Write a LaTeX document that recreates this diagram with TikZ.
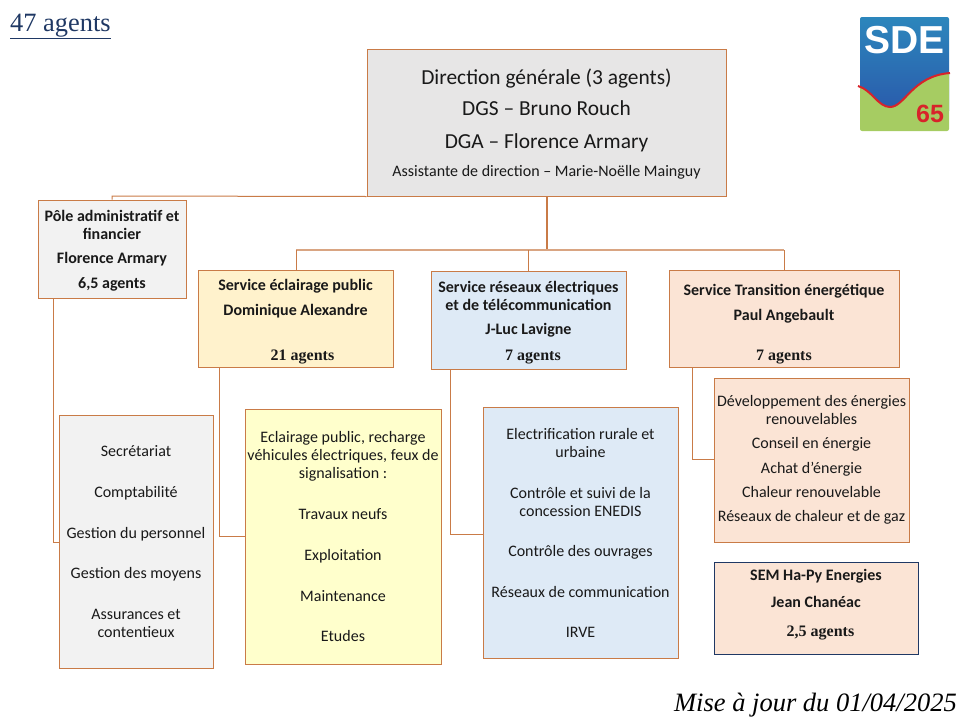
\documentclass[tikz,border=0pt]{standalone}
\usepackage{fontspec}
\setmainfont{Carlito}
\newfontfamily\serifont{Liberation Serif}
\newfontfamily\logofont{Liberation Sans}
\usepackage{xcolor}
\definecolor{liencol}{HTML}{C97B47}
\definecolor{liensoft}{HTML}{D9A582}
\definecolor{grisdg}{HTML}{E7E6E6}
\definecolor{grispole}{HTML}{F2F2F2}
\definecolor{orclair}{HTML}{FFF2CC}
\definecolor{bleuclair}{HTML}{DEEAF6}
\definecolor{saumon}{HTML}{FBE4D5}
\definecolor{jaune}{HTML}{FFFFCC}
\definecolor{marine}{HTML}{1F3864}
\definecolor{logohaut}{HTML}{2C86BC}
\definecolor{logomilieu}{HTML}{1E96D2}
\definecolor{logobas}{HTML}{2A5CAC}
\definecolor{logovert}{HTML}{A6CC62}
\definecolor{logorouge}{HTML}{D8232A}
\newcommand{\agt}[1]{{\serifont\bfseries\fontsize{16}{16}\selectfont #1}}
\newcommand{\cale}[1]{\rule{0pt}{#1}}
\tikzset{
    boite/.style={draw=liencol, line width=1pt, inner sep=0pt, align=center, text=black!90},
    lien/.style={draw=liencol, line width=1pt},
    liensoft/.style={draw=liensoft, line width=1.3pt},
    titre/.style={font=\bfseries\fontsize{16}{18}\selectfont},
    liste/.style={font=\fontsize{16}{18}\selectfont}
}
\begin{document}
\begin{tikzpicture}[x=1pt,y=-1pt]
        \useasboundingbox (0,0) rectangle (960,720);

        % Title and date
        \node[anchor=base west, inner sep=0pt, text=marine, font=\serifont\fontsize{26.4}{26}\selectfont] (effectif) at (10,31) {\underline{47 agents}};
        \node[anchor=base east, inner sep=0pt, font=\serifont\itshape\fontsize{26.5}{27}\selectfont] (maj) at (957,711) {Mise à jour du 01/04/2025};

        % Main boxes
        \node[boite, fill=grisdg, minimum width=359, minimum height=147, font=\fontsize{21.4}{24}\selectfont] (dg) at (546.5,122.5)
            {\cale{19pt}Direction générale (3 agents)\\[7pt]
             DGS -- Bruno Rouch\\[9pt]
             DGA -- Florence Armary\\[4pt]
             {\fontsize{16}{24}\selectfont Assistante de direction -- Marie-Noëlle Mainguy}};
        \node[boite, titre, fill=grispole, minimum width=148, minimum height=98] (pole) at (112,249)
            {\cale{15pt}Pôle administratif et\\financier\\[6pt]Florence Armary\\[7pt]6,5 agents};
        \node[boite, titre, fill=orclair, minimum width=195, minimum height=97] (eclairage) at (295.5,318.5)
            {\cale{17pt}Service éclairage public\\[7pt]Dominique Alexandre\\[27pt]\hspace*{14pt}\agt{21 agents}};
        \node[boite, titre, fill=bleuclair, minimum width=195, minimum height=98] (reseaux) at (528.5,320)
            {\cale{16pt}Service réseaux électriques\\et de télécommunication\\[6pt]J-Luc Lavigne\\[8pt]\hspace*{9pt}\agt{7 agents}};
        \node[boite, titre, fill=saumon, minimum width=230, minimum height=97] (transition) at (784,318.5)
            {\cale{22pt}Service Transition énergétique\\[7pt]Paul Angebault\\[22pt]\agt{7 agents}};

        % Detail boxes
        \node[boite, liste, fill=grispole, minimum width=154, minimum height=253] (secretariat) at (136,541.5)
            {Secrétariat\\[23pt]Comptabilité\\[23pt]Gestion du personnel\\[22pt]Gestion des moyens\\[23pt]Assurances et\\contentieux};
        \node[boite, liste, fill=jaune, minimum width=196, minimum height=255] (travaux) at (343,536.5)
            {Eclairage public, recharge\\véhicules électriques, feux de\\signalisation :\\[23pt]Travaux neufs\\[23pt]Exploitation\\[23pt]Maintenance\\[22pt]Etudes};
        \node[boite, liste, fill=bleuclair, minimum width=195, minimum height=251] (ouvrages) at (580.5,532.5)
            {Electrification rurale et\\urbaine\\[23pt]Contrôle et suivi de la\\concession ENEDIS\\[22pt]Contrôle des ouvrages\\[23pt]Réseaux de communication\\[22pt]IRVE};
        \node[boite, liste, fill=saumon, minimum width=195, minimum height=164] (energies) at (811.5,460)
            {Développement des énergies\\renouvelables\\[6pt]Conseil en énergie\\[6.5pt]Achat d’énergie\\[6pt]Chaleur renouvelable\\[6.5pt]Réseaux de chaleur et de gaz};
        \node[boite, titre, draw=marine, fill=saumon, minimum width=204, minimum height=92] (sem) at (816,608)
            {SEM Ha-Py Energies\\[9pt]Jean Chanéac\\[11pt]\hspace*{9pt}\agt{2,5 agents}\rule[-10pt]{0pt}{0pt}};

        % Connectors
        \coordinate (tronc) at (547,250);
        \coordinate (gauche) at (296,250);
        \coordinate (droite) at (784,250);
        \coordinate (milieu) at (528,250);
        \coordinate (haut) at (112,196);
        \draw[lien, line width=1.3pt] (dg.south -| tronc) -- (tronc);
        \draw[liensoft] (gauche) -- (droite);
        \draw[lien] (gauche) -- (eclairage.north -| gauche);
        \draw[lien] (milieu) -- (reseaux.north -| milieu);
        \draw[lien] (droite) -- (transition.north -| droite);
        \draw[lien] (dg.south west) -- (haut) -- (pole.north -| haut);

        \coordinate (polebas) at (53,542);
        \coordinate (eclbas) at (219,536);
        \coordinate (resbas) at (450,534);
        \coordinate (trabas) at (692,459);
        \draw[lien] (pole.south -| polebas) -- (polebas) -- (polebas -| secretariat.west);
        \draw[lien] (eclairage.south -| eclbas) -- (eclbas) -- (eclbas -| travaux.west);
        \draw[lien] (reseaux.south -| resbas) -- (resbas) -- (resbas -| ouvrages.west);
        \draw[lien] (transition.south -| trabas) -- (trabas) -- (trabas -| energies.west);

        % Logo
        \begin{scope}
            \clip[rounded corners=2pt] (860,17) rectangle (949,131);
            \shade[top color=logohaut, middle color=logomilieu, bottom color=logobas] (860,17) rectangle (949,110);
            \fill[logovert] (858,86) .. controls (872,90) and (878,107) .. (890,107) .. controls (905,107) and (912,76) .. (950,73) -- (950,131) -- (858,131) -- cycle;
        \end{scope}
        \draw[logorouge, line width=2pt] (858,86) .. controls (872,90) and (878,107) .. (890,107) .. controls (905,107) and (912,76) .. (950,73);
        \node[text=white, inner sep=0pt, font=\logofont\bfseries\fontsize{39}{39}\selectfont] (sde) at (904.5,40) {SDE};
        \node[text=logorouge, inner sep=0pt, font=\logofont\bfseries\fontsize{25}{25}\selectfont] (dept) at (930,114) {65};
\end{tikzpicture}
\end{document}
